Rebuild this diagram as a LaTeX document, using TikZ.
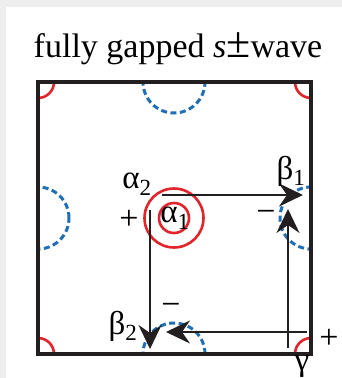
\documentclass[tikz,border=0pt]{standalone}
\usepackage{fontspec}
\setmainfont{Liberation Serif}
\usetikzlibrary{arrows.meta}

\begin{document}
\begin{tikzpicture}[x=1pt, y=-1pt,
    path line/.style={line width=2.4pt, draw=borderColour},
    flow/.style={path line, -{Stealth[length=24pt, width=23pt, inset=8pt]}},
    lab/.style={inner sep=0pt, font=\fontsize{33}{35}\selectfont},
    sign/.style={inner sep=0pt, font=\fontsize{34}{36}\selectfont},
  ]
    % Define colours
    \definecolor{borderColour}{HTML}{231F20}
    \definecolor{holeColour}{HTML}{E3242B}
    \definecolor{electronColour}{HTML}{1F6FB8}
    \definecolor{frameColour}{HTML}{EEEEEE}

    % Define sizes
    \def\cornerR{16pt}
    \def\edgeR{31pt}

    % Page and margins
    \useasboundingbox (0,0) rectangle (342,378);
    \fill[frameColour] (0,0) rectangle (342,378);
    \fill[white] (6,7) rectangle (342,378);

    % Title
    \node[anchor=base, inner sep=0pt, font=\fontsize{34}{36}\selectfont] (title) at (178,57)
        {fully gapped \textit{s}{\fontsize{44}{44}\selectfont ±}wave};

    % Corners of the Brillouin zone
    \coordinate (TL) at (38,82);
    \coordinate (TR) at (311,82);
    \coordinate (BR) at (311,354);
    \coordinate (BL) at (38,354);
    \coordinate (centre) at (174,218);

    % Fermi surfaces, clipped to the zone
    \begin{scope}
        \clip (TL) rectangle (BR);
        \foreach \c in {TL,TR,BR,BL}
            \draw[holeColour, line width=2.6pt] (\c) circle (\cornerR);
        \foreach \e in {(174,82),(311,218),(174,354),(38,218)}
            \draw[electronColour, line width=3pt, dash pattern=on 6pt off 3.5pt] \e circle (\edgeR);
    \end{scope}
    \draw[holeColour, line width=2.6pt] (centre) circle (15pt);
    \draw[holeColour, line width=2.6pt] (centre) circle (29.5pt);

    % Draw zone border
    \draw[borderColour, line width=3.2pt] (TL) rectangle (BR);

    % Ends of the scattering paths
    \coordinate (a2start) at (162,195);
    \coordinate (b1end) at (303,195);
    \coordinate (gup) at (288,348);
    \coordinate (b1up) at (288,209);
    \coordinate (gleft) at (307,332);
    \coordinate (b2left) at (166,332);
    \coordinate (a2down) at (150,210);
    \coordinate (b2end) at (150,349);

    % Draw scattering paths
    \draw[flow] (a2start) -- (b1end);
    \draw[flow] (gup) -- (b1up);
    \draw[flow] (gleft) -- (b2left);
    \draw[flow] (a2down) -- (b2end);

    % Labels
    \node[lab] (alpha2) at (137,184) {α\textsubscript{2}};
    \node[lab] (alpha1) at (175,218) {α\textsubscript{1}};
    \node[lab] (beta1) at (291,171) {β\textsubscript{1}};
    \node[lab] (beta2) at (123,326) {β\textsubscript{2}};
    \node[lab] (gamma) at (302,366) {γ};

    % Signs of the gap
    \node[sign] (plusA) at (129,220) {+};
    \node[sign] (minusB1) at (266,216) {−};
    \node[sign] (minusB2) at (171,309) {−};
    \node[sign] (plusG) at (329,339) {+};

\end{tikzpicture}
\end{document}
